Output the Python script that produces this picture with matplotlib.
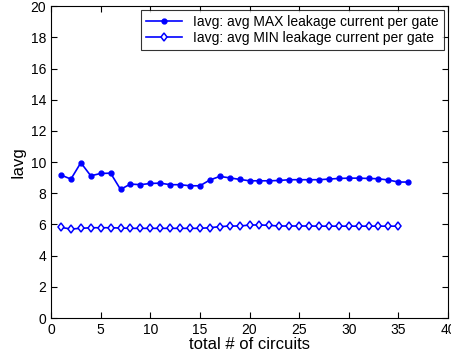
import numpy as np
import matplotlib
matplotlib.use("Agg")
import matplotlib.pyplot as plt

plt.rcParams['font.family'] = ['Liberation Sans', 'DejaVu Sans']

x_max = list(range(1, 37))
iavg_max = [9.17, 8.91, 9.96, 9.12, 9.27, 9.29, 8.25, 8.59, 8.55, 8.63,
            8.65, 8.55, 8.55, 8.48, 8.48, 8.85, 9.08, 8.99, 8.89, 8.80,
            8.80, 8.80, 8.82, 8.87, 8.87, 8.87, 8.87, 8.91, 8.95, 8.97,
            8.97, 8.95, 8.93, 8.85, 8.72, 8.72]

x_min = list(range(1, 36))
iavg_min = [5.81, 5.71, 5.75, 5.79, 5.79, 5.79, 5.77, 5.75, 5.75, 5.75,
            5.75, 5.75, 5.75, 5.75, 5.75, 5.79, 5.86, 5.90, 5.90, 5.96,
            5.97, 5.94, 5.90, 5.90, 5.90, 5.90, 5.89, 5.89, 5.89, 5.89,
            5.89, 5.89, 5.89, 5.89, 5.89]

labels = ['Iavg: avg MAX leakage current per gate',
          'Iavg: avg MIN leakage current per gate']

fig = plt.figure(figsize=(4.52, 3.62), dpi=100)
ax = fig.add_axes([0.113, 0.1215, 0.878, 0.8615])

ax.plot(x_max, iavg_max, '-', color='blue', marker='o', markersize=3.5,
        linewidth=1.2, label=labels[0])
ax.plot(x_min, iavg_min, '-', color='blue', marker='d', markersize=4.5,
        markerfacecolor='white', markeredgewidth=1.1, linewidth=1.2,
        label=labels[1])

ax.set_xlim(0, 40)
ax.set_ylim(0, 20)
ax.set_xticks(np.arange(0, 41, 5))
ax.set_yticks(np.arange(0, 21, 2))
ax.tick_params(direction='in', top=True, right=True, labelsize=10, length=4)
ax.set_xlabel('total # of circuits', fontsize=12, labelpad=0)
ax.set_ylabel('Iavg', fontsize=12, labelpad=4)

leg = ax.legend(loc='upper right', fontsize=10, frameon=True, fancybox=False,
                edgecolor='black', borderpad=0.35, labelspacing=0.15,
                handlelength=2.6, borderaxespad=0.3)
leg.get_frame().set_linewidth(0.8)

fig.savefig('out.png', dpi=100)
